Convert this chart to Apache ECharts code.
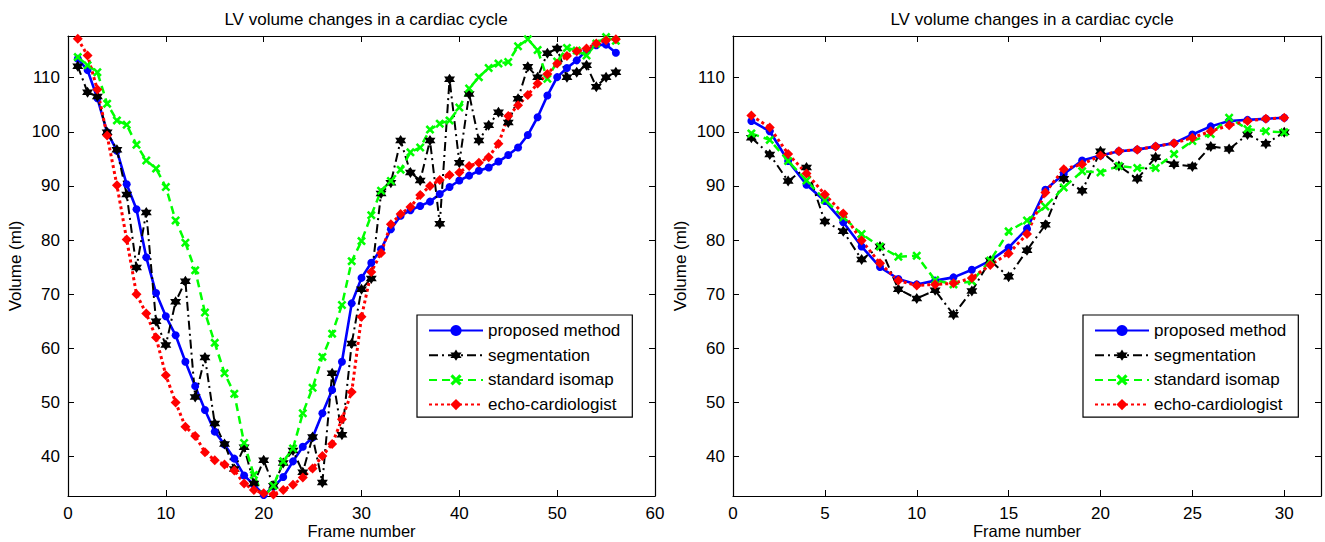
<!DOCTYPE html>
<html><head><meta charset="utf-8">
<script src="https://cdn.jsdelivr.net/npm/echarts@6/dist/echarts.min.js"></script>
<style>html,body{margin:0;padding:0;background:#fff}#c{width:1325px;height:542px}</style>
</head><body><div id="c"></div>
<script>
// ---------- data ----------
const framesLeft = [1,2,3,4,5,6,7,8,9,10,11,12,13,14,15,16,17,18,19,20,21,22,23,24,25,26,27,28,29,30,31,32,33,34,35,36,37,38,39,40,41,42,43,44,45,46,47,48,49,50,51,52,53,54,55,56];
const proposedLeft = [113.5,111.4,106.2,99.9,96.5,90.3,85.7,76.8,70.2,65.9,62.4,57.5,53,48.6,44.6,42.2,39.6,36.5,34.8,32.9,34.4,36.2,39.1,41.8,43.5,48,52.3,57.5,68.3,73,75.8,78.3,82,84.5,85.5,86.3,87.1,88.5,89.8,91,91.9,92.8,93.4,94.5,95.7,97.1,99.4,102.7,106.7,110.1,111.8,113.2,115.1,116,116.1,114.6];
const segmentationLeft = [112.1,107.3,106.5,99.9,96.7,88.4,74.9,85.1,65,60.6,68.6,72.4,51,58.3,46.1,42.3,37.7,41.7,35,39.3,34.6,38.8,41.1,37.1,43.6,35.2,55.4,44,60.9,70.9,72.9,88.6,90.6,98.4,92.5,91,98.4,83,109.7,94.3,107,98.4,101.2,103.6,101.7,106.1,112,110.1,114.5,115.4,110.1,111,112.3,108.3,110.1,111];
const isomapLeft = [113.8,112.3,111,105.2,102.1,101.3,97.6,94.7,93.2,89.8,83.6,79.5,74.4,66.6,61,55.4,51.6,42.5,36.6,32.5,34.6,39.1,41.5,48,52.7,58.4,62.7,68,76.1,79.8,84.6,89.1,90.9,93,96.2,97.1,100.4,101.5,102.1,104.5,108,110.1,111.8,112.6,112.9,115.8,117.1,115.1,109.8,113,115.5,115,114.1,116.3,117.5,116.8];
const echoLeft = [117.2,114.1,107.8,99.3,90.1,80.1,70,66.4,62,55,50,45.5,43.8,40.8,39.3,38.5,37.4,35,33.8,33.2,33,33.8,34.8,36.1,37.8,40.1,42.3,46.9,51.9,65.8,74.1,77.6,82.9,84.8,86.1,88.3,90,91.1,92,92.5,93.7,94.3,95.3,97.8,102.9,104.9,106.8,108.9,110.7,112.6,114,114.9,115.4,116.3,116.9,117.1];

const framesRight = [1,2,3,4,5,6,7,8,9,10,11,12,13,14,15,16,17,18,19,20,21,22,23,24,25,26,27,28,29,30];
const proposedRight = [102,100.1,94.6,90.2,87.2,83.3,78.8,75,72.8,71.8,72.5,73.1,74.5,76.2,78.6,82.1,89.3,92.2,94.7,95.6,96.4,96.7,97.3,97.9,99.5,101,102,102.2,102.4,102.6];
const segmentationRight = [98.9,95.8,90.9,93.4,83.4,81.6,76.4,78.8,70.9,69.2,70.7,66.2,70.6,76.2,73.2,78.1,82.8,91.3,89.1,96.4,93.7,91.3,95.3,94,93.6,97.3,96.8,99.5,97.8,99.9];
const isomapRight = [99.7,98.5,94.6,91,87.4,84.2,81.1,78.8,76.9,77.1,72.6,71.8,72.4,76.2,81.6,83.6,86.2,89.7,92.7,92.5,93.7,93.3,93.3,95.9,98.3,99.6,102.6,100.5,100.1,99.9];
const echoRight = [103,100.8,95.9,92.3,88.4,84.9,79.9,75.7,72.5,71.6,71.8,72,73,75.4,77.5,81.1,88.8,93.1,94,95.6,96.4,96.7,97.3,97.9,98.9,100.1,101.2,102,102.4,102.6];

const seriesNames = ['proposed method','segmentation','standard isomap','echo-cardiologist'];
const chartTitle = 'LV volume changes in a cardiac cycle';
const xName = 'Frame number';
const yName = 'Volume (ml)';

// ---------- styles ----------
const FONT = '"Liberation Sans", Arial, sans-serif';
const hexagram = 'path://M50,0 L64.4,25 L93.3,25 L78.9,50 L93.3,75 L64.4,75 L50,100 L35.6,75 L6.7,75 L21.1,50 L6.7,25 L35.6,25 Z';
const xMark = 'path://M0,2 L2,0 L5,3 L8,0 L10,2 L7,5 L10,8 L8,10 L5,7 L2,10 L0,8 L3,5 Z';
const styles = [
  {color:'#0000ff', symbol:'circle', symbolSize:8, line:{width:2.6, type:'solid'}},
  {color:'#000000', symbol:hexagram, symbolSize:11, line:{width:2, type:[9,4,2,4]}},
  {color:'#00ff00', symbol:xMark, symbolSize:9, line:{width:2.5, type:[8,5]}},
  {color:'#ff0000', symbol:'diamond', symbolSize:10, line:{width:3, type:[3,3]}}
];

function pairs(xs, ys){ return xs.map((x,i)=>[x, ys[i]]); }
function mkSeries(gi, xs, list){
  return list.map((ys, k)=>({
    name: seriesNames[k], type:'line', xAxisIndex: gi*2, yAxisIndex: gi*2,
    data: pairs(xs, ys), symbol: styles[k].symbol, symbolSize: styles[k].symbolSize,
    showAllSymbol: true, animation:false,
    lineStyle:{color:styles[k].color, width:styles[k].line.width, type:styles[k].line.type},
    itemStyle:{color:styles[k].color, borderWidth:0}
  }));
}

const axisCommon = {
  axisLine:{show:true, onZero:false, lineStyle:{color:'#000', width:1.2}},
  axisTick:{show:true, inside:true, length:6, lineStyle:{color:'#000'}},
  splitLine:{show:false},
  axisLabel:{color:'#000', fontSize:17, fontFamily:FONT, margin:8}
};
const Y_MIN = 32.7, Y_MAX = 117.7;
function xAx(gi, pos, max, interval, labels){
  return Object.assign({}, JSON.parse(JSON.stringify(axisCommon)), {
    type:'value', gridIndex:gi, position:pos, min:0, max:max, interval:interval,
    name: labels ? xName : '', nameLocation:'middle', nameGap:26, nameMoveOverlap:false,
    nameTextStyle:{color:'#000', fontSize:16.5, fontFamily:FONT},
    axisLabel: labels ? {show:true, color:'#000', fontSize:17, fontFamily:FONT, margin:9,
      formatter: v => (v % interval === 0 ? String(v) : '')} : {show:false}
  });
}
function yAx(gi, pos, labels){
  return Object.assign({}, JSON.parse(JSON.stringify(axisCommon)), {
    type:'value', gridIndex:gi, position:pos, min:Y_MIN, max:Y_MAX, splitNumber:8,
    name: labels ? yName : '', nameLocation:'middle', nameGap:44, nameRotate:90,
    nameTextStyle:{color:'#000', fontSize:17, fontFamily:FONT},
    axisLabel: labels ? {show:true, color:'#000', fontSize:17, fontFamily:FONT, margin:8,
      formatter: v => (Math.abs(v % 10) < 1e-6 ? String(v) : '')} : {show:false}
  });
}

const legendCommon = {
  orient:'vertical', top:315, itemWidth:54, itemHeight:14, itemGap:7.7,
  padding:[7,12,4,11], borderColor:'#000', borderWidth:1.2, backgroundColor:'#fff',
  textStyle:{color:'#000', fontSize:17, fontFamily:FONT}, data: seriesNames,
  selectedMode:false, z:10
};

const chart = echarts.init(document.getElementById('c'), null, {renderer:'svg'});
chart.setOption({
  animation:false,
  backgroundColor:'#fff',
  title:[
    {text:chartTitle, left:361, top:6, textAlign:'center', textStyle:{color:'#000', fontSize:17, fontWeight:'normal', fontFamily:FONT}},
    {text:chartTitle, left:1027, top:6, textAlign:'center', textStyle:{color:'#000', fontSize:17, fontWeight:'normal', fontFamily:FONT}}
  ],
  grid:[
    {left:68, top:36, width:587, height:460, outerBoundsMode:'none', containLabel:false},
    {left:733, top:36, width:588, height:460, outerBoundsMode:'none', containLabel:false}
  ],
  xAxis:[ xAx(0,'bottom',60,10,true), xAx(0,'top',60,10,false), xAx(1,'bottom',32,5,true), xAx(1,'top',32,5,false) ],
  yAxis:[ yAx(0,'left',true), yAx(0,'right',false), yAx(1,'left',true), yAx(1,'right',false) ],
  legend:[ Object.assign({left:417}, legendCommon), Object.assign({left:1083}, legendCommon) ],
  series: [].concat(
    mkSeries(0, framesLeft, [proposedLeft, segmentationLeft, isomapLeft, echoLeft]),
    mkSeries(1, framesRight, [proposedRight, segmentationRight, isomapRight, echoRight])
  )
});
</script></body></html>
